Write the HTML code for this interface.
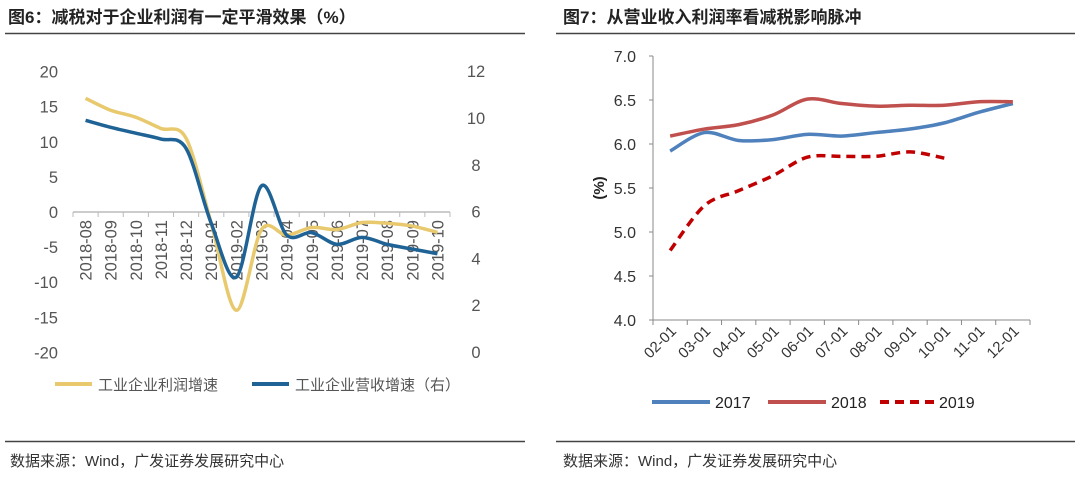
<!DOCTYPE html>
<html><head><meta charset="utf-8"><style>
body{margin:0;background:#fff;}
svg text{font-family:"Liberation Sans","Noto Sans CJK SC",sans-serif;}
</style></head><body>
<svg id="s" width="1080" height="475" xmlns="http://www.w3.org/2000/svg">
<text x="8" y="23" font-size="17" font-weight="bold" fill="#222">图6：减税对于企业利润有一定平滑效果（%）</text>
<text x="563" y="23" font-size="17" font-weight="bold" fill="#222">图7：从营业收入利润率看减税影响脉冲</text>
<line x1="5" y1="33.5" x2="525" y2="33.5" stroke="#444" stroke-width="1.5"/>
<line x1="556" y1="33.5" x2="1075" y2="33.5" stroke="#444" stroke-width="1.5"/>
<line x1="5" y1="441.5" x2="525" y2="441.5" stroke="#444" stroke-width="1.5"/>
<line x1="556" y1="441.5" x2="1075" y2="441.5" stroke="#444" stroke-width="1.5"/>
<text x="10" y="466" font-size="15" fill="#333">数据来源：Wind，广发证券发展研究中心</text>
<text x="563" y="466" font-size="15" fill="#333">数据来源：Wind，广发证券发展研究中心</text>
<g id="L"></g><g id="R"></g>
</svg>
<script>
const leftCats=["2018-08","2018-09","2018-10","2018-11","2018-12","2019-01","2019-02","2019-03","2019-04","2019-05","2019-06","2019-07","2019-08","2019-09","2019-10"];
const profitGrowth=[16.2,14.5,13.5,11.9,10.5,-1.6,-14,-2.5,-3.3,-2.2,-2.5,-1.5,-1.6,-2,-2.9];
const revenueGrowth=[9.9,9.6,9.35,9.1,8.7,5.5,3.2,7.1,5.0,5.1,4.6,4.9,4.6,4.4,4.2];
const leftTicks=[20,15,10,5,0,-5,-10,-15,-20];
const rightTicks=[12,10,8,6,4,2,0];
const rightCats=["02-01","03-01","04-01","05-01","06-01","07-01","08-01","09-01","10-01","11-01","12-01"];
const margin2017=[5.92,6.13,6.04,6.05,6.11,6.09,6.13,6.17,6.24,6.36,6.46];
const margin2018=[6.09,6.17,6.22,6.33,6.51,6.46,6.43,6.44,6.44,6.48,6.48];
const margin2019=[4.79,5.30,5.47,5.64,5.85,5.86,5.86,5.91,5.84];
const marginTicks=[7.0,6.5,6.0,5.5,5.0,4.5,4.0];

const NS="http://www.w3.org/2000/svg";
function mk(p,tag,at){const e=document.createElementNS(NS,tag);for(const k in at)e.setAttribute(k,at[k]);p.appendChild(e);return e;}
function smooth(pts){let d="M"+pts[0][0]+","+pts[0][1];for(let i=0;i<pts.length-1;i++){const p0=pts[i-1]||pts[i],p1=pts[i],p2=pts[i+1],p3=pts[i+2]||p2;const t=0.16;d+=" C"+(p1[0]+(p2[0]-p0[0])*t)+","+(p1[1]+(p2[1]-p0[1])*t)+" "+(p2[0]-(p3[0]-p1[0])*t)+","+(p2[1]-(p3[1]-p1[1])*t)+" "+p2[0]+","+p2[1];}return d;}

// Left chart
const L=document.getElementById('L');
const lx0=73,lx1=450,ly=v=>212-v*7.02,ry=v=>352-v*23.4;
const lstep=(lx1-lx0)/leftCats.length,lx=i=>lx0+lstep*(i+0.5);
leftTicks.forEach(v=>{const t=mk(L,'text',{x:58,y:ly(v)+6,'font-size':16.5,fill:'#555','text-anchor':'end'});t.textContent=v;
});
rightTicks.forEach(v=>{const t=mk(L,'text',{x:476,y:ry(v)+6,'font-size':16.5,fill:'#555','text-anchor':'middle'});t.textContent=v;
});
const ax=mk(L,'line',{x1:lx0,y1:ly(0),x2:lx1,y2:ly(0),stroke:'#bbb','stroke-width':1.5});

for(let i=0;i<=leftCats.length;i++){const tk=mk(L,'line',{x1:lx0+lstep*i,y1:ly(0),x2:lx0+lstep*i,y2:ly(0)+5,stroke:'#bbb'});
}
leftCats.forEach((c,i)=>{const x=lx(i)+6,y=ly(0)+8;const t=mk(L,'text',{x:x,y:y,'font-size':16.5,fill:'#555','text-anchor':'end',transform:`rotate(-90 ${x} ${y})`});t.textContent=c;
});
const p1=mk(L,'path',{d:smooth(profitGrowth.map((v,i)=>[lx(i),ly(v)])),fill:'none',stroke:'#E8C96E','stroke-width':3.5});

const p2=mk(L,'path',{d:smooth(revenueGrowth.map((v,i)=>[lx(i),ry(v)])),fill:'none',stroke:'#1F6396','stroke-width':3.5});

[[55,98,'#E8C96E','工业企业利润增速','legend-profit'],[252,295,'#1F6396','工业企业营收增速（右）','legend-revenue']].forEach(a=>{
const g=mk(L,'g',{});
mk(g,'line',{x1:a[0],y1:384,x2:a[0]+37,y2:384,stroke:a[2],'stroke-width':4});
const t=mk(g,'text',{x:a[1],y:390,'font-size':15,fill:'#555'});t.textContent=a[3];});

// Right chart
const R=document.getElementById('R');
const rx0=653,rx1=1030,my=v=>320-(v-4)*88;
const rstep=(rx1-rx0)/rightCats.length,rx=i=>rx0+rstep*(i+0.5);
const ya=mk(R,'line',{x1:rx0,y1:my(7),x2:rx0,y2:my(4),stroke:'#888','stroke-width':1});

const xa=mk(R,'line',{x1:rx0-4,y1:my(4),x2:rx1,y2:my(4),stroke:'#888','stroke-width':1});

marginTicks.forEach(v=>{mk(R,'line',{x1:rx0-4,y1:my(v),x2:rx0,y2:my(v),stroke:'#888'});
const t=mk(R,'text',{x:636,y:my(v)+6,'font-size':16,fill:'#333','text-anchor':'end'});t.textContent=v.toFixed(1);
});
for(let i=0;i<=rightCats.length;i++)mk(R,'line',{x1:rx0+rstep*i,y1:my(4),x2:rx0+rstep*i,y2:my(4)+5,stroke:'#888'});
rightCats.forEach((c,i)=>{const x=rx(i)+7,y=my(4)+12;const t=mk(R,'text',{x:x,y:y,'font-size':15,fill:'#333','text-anchor':'end',transform:`rotate(-45 ${x} ${y})`});t.textContent=c;
});
const yt=mk(R,'text',{x:604,y:188,'font-size':15,'font-weight':'bold',fill:'#222','text-anchor':'middle',transform:'rotate(-90 604 188)'});yt.textContent='(%)';

const s17=mk(R,'path',{d:smooth(margin2017.map((v,i)=>[rx(i),my(v)])),fill:'none',stroke:'#4F81BD','stroke-width':3.5});

const s18=mk(R,'path',{d:smooth(margin2018.map((v,i)=>[rx(i),my(v)])),fill:'none',stroke:'#C0504D','stroke-width':3.5});

const s19=mk(R,'path',{d:smooth(margin2019.map((v,i)=>[rx(i),my(v)])),fill:'none',stroke:'#C00000','stroke-width':3.5,'stroke-dasharray':'9,6'});

[[652,'#4F81BD','2017','',"legend-2017"],[768,'#C0504D','2018','',"legend-2018"],[880,'#C00000','2019','9,6',"legend-2019"]].forEach(a=>{
const g=mk(R,'g',{});
mk(g,'line',{x1:a[0],y1:402,x2:a[0]+(a[3]?55:58),y2:402,stroke:a[1],'stroke-width':4,'stroke-dasharray':a[3]||'none'});
const t=mk(g,'text',{x:a[0]+(a[3]?59:63),y:408,'font-size':16,fill:'#222'});t.textContent=a[2];});
</script>
</body></html>
